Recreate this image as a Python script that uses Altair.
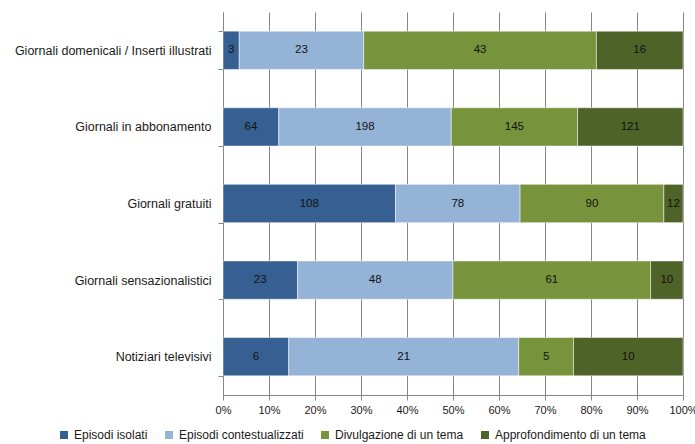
import altair as alt
import pandas as pd

categories = [
    "Giornali domenicali / Inserti illustrati",
    "Giornali in abbonamento",
    "Giornali gratuiti",
    "Giornali sensazionalistici",
    "Notiziari televisivi",
]
series = [
    "Episodi isolati",
    "Episodi contestualizzati",
    "Divulgazione di un tema",
    "Approfondimento di un tema",
]
values = {
    "Episodi isolati": [3, 64, 108, 23, 6],
    "Episodi contestualizzati": [23, 198, 78, 48, 21],
    "Divulgazione di un tema": [43, 145, 90, 61, 5],
    "Approfondimento di un tema": [16, 121, 12, 10, 10],
}
colors = ["#376092", "#95B3D7", "#77933C", "#4F6228"]

rows = []
for si, s in enumerate(series):
    for ci, c in enumerate(categories):
        rows.append({"cat": c, "series": s, "order": si, "value": values[s][ci]})
df = pd.DataFrame(rows)

FONT = "Liberation Sans"

base = alt.Chart(df).transform_stack(
    stack="value", groupby=["cat"], as_=["x0", "x1"], offset="normalize",
    sort=[alt.SortField("order", order="ascending")],
).transform_calculate(mid="(datum.x0 + datum.x1) / 2")

y_enc = alt.Y(
    "cat:N", sort=categories, title=None,
    scale=alt.Scale(paddingInner=0.5, paddingOuter=0.25),
    axis=alt.Axis(tickBand="extent", tickSize=5, tickColor="#868686",
                  domainColor="#868686", labelFont=FONT, labelFontSize=12.5,
                  labelColor="#1a1a1a", labelPadding=7, labelLimit=300),
)

bars = base.mark_bar(stroke="white", strokeWidth=0.5).encode(
    x=alt.X("x0:Q", title=None,
            scale=alt.Scale(domain=[0, 1], nice=False),
            axis=alt.Axis(format="%", values=[i / 10 for i in range(11)],
                          grid=True, gridColor="#868686", tickColor="#868686",
                          domainColor="#868686", tickSize=5, labelFont=FONT,
                          labelFontSize=11, labelColor="#1a1a1a", labelPadding=4,
                          labelFlush=False)),
    x2="x1:Q",
    y=y_enc,
    color=alt.Color("series:N", sort=series,
                    scale=alt.Scale(domain=series, range=colors),
                    legend=alt.Legend(title=None, orient="none", direction="horizontal",
                                      columns=4, legendX=-165, legendY=417,
                                      symbolType="square", symbolSize=64,
                                      symbolStrokeWidth=0, labelFont=FONT,
                                      labelFontSize=12, labelColor="#1a1a1a",
                                      columnPadding=15, labelOffset=4)),
    order=alt.Order("order:Q"),
)

texts = base.mark_text(font=FONT, fontSize=11.5, color="#111111").encode(
    x=alt.X("mid:Q"),
    y=alt.Y("cat:N", sort=categories),
    text="value:Q",
)

chart = alt.layer(bars, texts).properties(
    width=460, height=383,
    padding={"left": 223, "top": 12, "right": 12, "bottom": 49},
    autosize=alt.AutoSizeParams(type="none"),
).configure_view(stroke=None)

chart.save("out.html", embed_options={"renderer": "svg", "actions": False})
